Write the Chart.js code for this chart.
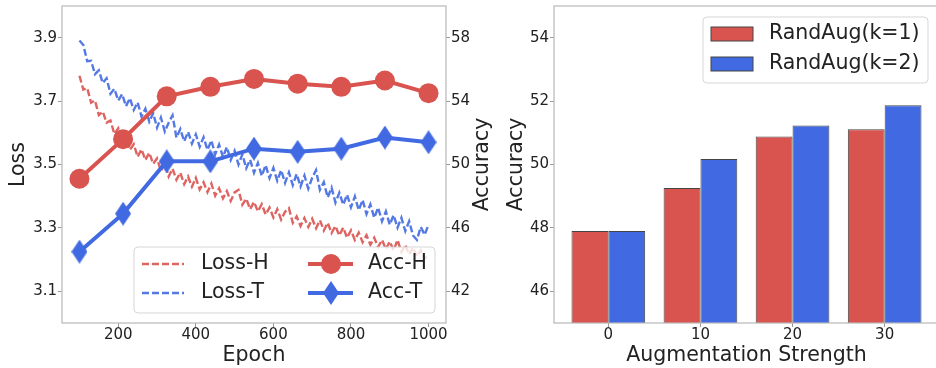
<!DOCTYPE html>
<html>
<head>
<meta charset="utf-8">
<script src="https://cdn.jsdelivr.net/npm/chart.js@4.4.1/dist/chart.umd.min.js"></script>
<style>
  html, body { margin: 0; padding: 0; background: #fff; overflow: hidden; }
  #left { position: absolute; left: 0; top: 0; }
  #right { position: absolute; left: 496px; top: 0; }
</style>
</head>
<body>
<canvas id="left" width="496" height="368"></canvas>
<canvas id="right" width="443" height="368"></canvas>
<script>
// ---- data ----
var accEpochs = [100, 212.5, 325, 437.5, 550, 662.5, 775, 887.5, 1000];
var accH = [49.1, 51.6, 54.3, 54.9, 55.4, 55.1, 54.9, 55.3, 54.5];
var accT = [44.5, 46.9, 50.2, 50.2, 51.0, 50.8, 51.0, 51.7, 51.4];

// loss sampled every 10 epochs from 100 to 1000
var lossH = [3.780, 3.736, 3.741, 3.695, 3.702, 3.656, 3.667, 3.632, 3.639, 3.596,
  3.614, 3.573, 3.588, 3.546, 3.564, 3.524, 3.548, 3.514, 3.537, 3.502,
  3.519, 3.480, 3.503, 3.462, 3.487, 3.452, 3.474, 3.438, 3.462, 3.430,
  3.458, 3.421, 3.444, 3.413, 3.440, 3.402, 3.425, 3.393, 3.416, 3.385,
  3.412, 3.420, 3.373, 3.392, 3.359, 3.382, 3.352, 3.375, 3.342, 3.364,
  3.333, 3.359, 3.326, 3.351, 3.362, 3.316, 3.336, 3.306, 3.331, 3.303,
  3.329, 3.299, 3.324, 3.292, 3.316, 3.284, 3.306, 3.276, 3.301, 3.269,
  3.292, 3.262, 3.285, 3.255, 3.277, 3.247, 3.269, 3.240, 3.262, 3.233,
  3.257, 3.229, 3.262, 3.224, 3.246, 3.216, 3.238, 3.210, 3.230, 3.203,
  3.216];
var lossT = [3.891, 3.877, 3.826, 3.827, 3.785, 3.797, 3.757, 3.772, 3.723, 3.739,
  3.702, 3.722, 3.684, 3.709, 3.672, 3.696, 3.651, 3.676, 3.635, 3.662,
  3.616, 3.648, 3.604, 3.632, 3.655, 3.585, 3.612, 3.573, 3.603, 3.566,
  3.595, 3.556, 3.586, 3.546, 3.576, 3.532, 3.563, 3.524, 3.555, 3.514,
  3.543, 3.500, 3.532, 3.488, 3.515, 3.474, 3.505, 3.464, 3.498, 3.457,
  3.489, 3.449, 3.482, 3.442, 3.475, 3.435, 3.470, 3.431, 3.465, 3.424,
  3.458, 3.482, 3.420, 3.444, 3.396, 3.427, 3.380, 3.411, 3.373, 3.405,
  3.365, 3.399, 3.356, 3.388, 3.344, 3.374, 3.332, 3.364, 3.321, 3.352,
  3.310, 3.340, 3.301, 3.332, 3.290, 3.321, 3.276, 3.262, 3.303, 3.278,
  3.311];
var lossEpochs = lossH.map(function (_, i) { return 100 + 10 * i; });

var strengths = [0, 10, 20, 30];
var randAug1 = [47.9, 49.26, 50.88, 51.11];
var randAug2 = [47.9, 50.17, 51.23, 51.87];

var epochTicks = [200, 400, 600, 800, 1000];
var lossTicks = [3.1, 3.3, 3.5, 3.7, 3.9];
var accTicks = [42, 46, 50, 54, 58];
var barAccTicks = [46, 48, 50, 52, 54];

// ---- styling ----
var RED = '#d9534f';
var BLUE = '#4169e1';
var TXT = '#222';
var FONT = '"DejaVu Sans", sans-serif';
Chart.defaults.font.family = FONT;
Chart.defaults.color = TXT;

function pts(xs, ys) {
  return ys.map(function (y, i) { return { x: xs[i], y: y }; });
}
// fixed axis thickness, and no label overhang padding so the plot box stays put
function fixSize(px) {
  return function (scale) {
    if (scale.isHorizontal()) scale.height = px; else scale.width = px;
    scale.paddingTop = 0; scale.paddingBottom = 0;
    scale.paddingLeft = 0; scale.paddingRight = 0;
  };
}
function setTicks(list) {
  return function (scale) { scale.ticks = list.map(function (v) { return { value: v }; }); };
}
function plain(v) { return String(v); }
function thinDiamond(color, w, h) {
  var c = document.createElement('canvas');
  c.width = w; c.height = h;
  var g = c.getContext('2d');
  g.fillStyle = color;
  g.beginPath();
  g.moveTo(w / 2, 0); g.lineTo(w, h / 2); g.lineTo(w / 2, h); g.lineTo(0, h / 2);
  g.closePath(); g.fill();
  return c;
}
var diamond = thinDiamond(BLUE, 16, 24);

function roundBox(ctx, x, y, w, h, r) {
  ctx.beginPath();
  ctx.moveTo(x + r, y);
  ctx.lineTo(x + w - r, y); ctx.arcTo(x + w, y, x + w, y + r, r);
  ctx.lineTo(x + w, y + h - r); ctx.arcTo(x + w, y + h, x + w - r, y + h, r);
  ctx.lineTo(x + r, y + h); ctx.arcTo(x, y + h, x, y + h - r, r);
  ctx.lineTo(x, y + r); ctx.arcTo(x, y, x + r, y, r);
  ctx.closePath();
  ctx.fillStyle = 'rgba(255,255,255,0.8)';
  ctx.fill();
  ctx.strokeStyle = 'rgba(210,210,210,0.9)';
  ctx.lineWidth = 1;
  ctx.stroke();
}
function drawFrame(chart) {
  var ca = chart.chartArea, ctx = chart.ctx;
  ctx.save();
  ctx.strokeStyle = '#b8b8b8';
  ctx.lineWidth = 1.2;
  ctx.strokeRect(ca.left, ca.top, ca.right - ca.left, ca.bottom - ca.top);
  ctx.restore();
}
var tickGrid = { drawOnChartArea: false, drawTicks: true, tickLength: 4, color: '#999' };
var tickFont = { size: 15, lineHeight: 1 };
var titleFont = { size: 20.5 };

// ---- left chart: loss + accuracy ----
var leftDecor = {
  id: 'leftDecor',
  afterDraw: function (chart) {
    var ctx = chart.ctx, ca = chart.chartArea, ds = chart.data.datasets;
    drawFrame(chart);
    ctx.save();
    // right axis title, read bottom to top
    ctx.translate(483, (ca.top + ca.bottom) / 2);
    ctx.rotate(-Math.PI / 2);
    ctx.font = '20.5px ' + FONT;
    ctx.fillStyle = TXT;
    ctx.textAlign = 'center';
    ctx.textBaseline = 'middle';
    ctx.fillText('Accuracy', 0, 0);
    ctx.restore();

    // legend
    var bx = ca.right - 312, by = ca.bottom - 76;
    ctx.save();
    roundBox(ctx, bx, by, 301, 66, 4);
    ctx.font = '20.5px ' + FONT;
    ctx.textBaseline = 'middle';
    ctx.textAlign = 'left';
    var rows = [by + 17, by + 46];
    [0, 1].forEach(function (i) {
      var y = rows[i], d = ds[i];
      ctx.strokeStyle = d.borderColor;
      ctx.lineWidth = d.borderWidth;
      ctx.setLineDash(d.borderDash);
      ctx.beginPath(); ctx.moveTo(bx + 8, y); ctx.lineTo(bx + 50, y); ctx.stroke();
      ctx.setLineDash([]);
      ctx.fillStyle = TXT;
      ctx.fillText(d.label, bx + 67, y);
    });
    [2, 3].forEach(function (i, k) {
      var y = rows[k], d = ds[i], cx = bx + 197;
      ctx.strokeStyle = d.borderColor;
      ctx.lineWidth = d.borderWidth;
      ctx.beginPath(); ctx.moveTo(bx + 174, y); ctx.lineTo(bx + 219, y); ctx.stroke();
      if (d.pointStyle === 'circle') {
        ctx.fillStyle = d.pointBackgroundColor;
        ctx.beginPath(); ctx.arc(cx, y, d.pointRadius, 0, Math.PI * 2); ctx.fill();
      } else {
        ctx.drawImage(d.pointStyle, cx - d.pointStyle.width / 2, y - d.pointStyle.height / 2);
      }
      ctx.fillStyle = TXT;
      ctx.fillText(d.label, bx + 234, y);
    });
    ctx.restore();
  }
};

new Chart(document.getElementById('left'), {
  type: 'line',
  data: {
    datasets: [
      { label: 'Loss-H', data: pts(lossEpochs, lossH), yAxisID: 'y', borderColor: 'rgba(217,83,79,0.9)',
        borderWidth: 2.4, borderDash: [7, 3], pointRadius: 0, order: 2 },
      { label: 'Loss-T', data: pts(lossEpochs, lossT), yAxisID: 'y', borderColor: 'rgba(65,105,225,0.9)',
        borderWidth: 2.4, borderDash: [7, 3], pointRadius: 0, order: 2 },
      { label: 'Acc-H', data: pts(accEpochs, accH), yAxisID: 'y1', borderColor: RED, borderWidth: 4,
        pointStyle: 'circle', pointRadius: 10, pointBackgroundColor: RED, pointBorderWidth: 0, order: 1 },
      { label: 'Acc-T', data: pts(accEpochs, accT), yAxisID: 'y1', borderColor: BLUE, borderWidth: 4,
        pointStyle: diamond, pointRadius: 12, pointBackgroundColor: BLUE, pointBorderWidth: 0, order: 0 }
    ]
  },
  options: {
    responsive: false,
    animation: false,
    layout: { autoPadding: false, padding: { top: 6, left: 0, right: 0, bottom: 0 } },
    plugins: { legend: { display: false }, tooltip: { enabled: false } },
    scales: {
      x: {
        type: 'linear', min: 55, max: 1045,
        afterBuildTicks: setTicks(epochTicks), afterFit: fixSize(45),
        ticks: { font: tickFont, padding: 1, callback: plain },
        grid: tickGrid, border: { display: false },
        title: { display: true, text: 'Epoch', font: titleFont, padding: 0 }
      },
      y: {
        position: 'left', min: 3.0, max: 4.0,
        afterBuildTicks: setTicks(lossTicks), afterFit: fixSize(62),
        ticks: { font: tickFont, padding: 1, callback: function (v) { return v.toFixed(1); } },
        grid: tickGrid, border: { display: false },
        title: { display: true, text: 'Loss', font: titleFont, padding: { top: 6 } }
      },
      y1: {
        position: 'right', min: 40, max: 60,
        afterBuildTicks: setTicks(accTicks), afterFit: fixSize(50),
        ticks: { font: tickFont, padding: 1, callback: plain },
        grid: tickGrid, border: { display: false }
      }
    }
  },
  plugins: [leftDecor]
});

// ---- right chart: grouped bars ----
var rightDecor = {
  id: 'rightDecor',
  afterDraw: function (chart) {
    var ctx = chart.ctx, ca = chart.chartArea, ds = chart.data.datasets;
    drawFrame(chart);
    var bx = ca.right - 236, by = ca.top + 11;
    ctx.save();
    roundBox(ctx, bx, by, 225, 66, 4);
    ctx.font = '20.5px ' + FONT;
    ctx.textBaseline = 'middle';
    ctx.textAlign = 'left';
    var rows = [by + 17, by + 47];
    ds.forEach(function (d, i) {
      var y = rows[i];
      ctx.fillStyle = d.backgroundColor;
      ctx.fillRect(bx + 8, y - 7, 42, 14);
      ctx.strokeStyle = d.borderColor;
      ctx.lineWidth = 1;
      ctx.strokeRect(bx + 8, y - 7, 42, 14);
      ctx.fillStyle = TXT;
      ctx.fillText(d.label, bx + 66, y);
    });
    ctx.restore();
  }
};

new Chart(document.getElementById('right'), {
  type: 'bar',
  data: {
    datasets: [
      { label: 'RandAug(k=1)', data: pts(strengths, randAug1), backgroundColor: RED,
        borderColor: '#444', borderWidth: 1, borderSkipped: 'bottom' },
      { label: 'RandAug(k=2)', data: pts(strengths, randAug2), backgroundColor: BLUE,
        borderColor: '#444', borderWidth: 1, borderSkipped: 'bottom' }
    ]
  },
  options: {
    responsive: false,
    animation: false,
    categoryPercentage: 0.8,
    barPercentage: 1.0,
    layout: { autoPadding: false, padding: { top: 6, left: 0, right: 0, bottom: 0 } },
    plugins: { legend: { display: false }, tooltip: { enabled: false } },
    scales: {
      x: {
        type: 'linear', min: -5.9, max: 35.9, offset: false,
        afterBuildTicks: setTicks(strengths), afterFit: fixSize(45),
        ticks: { font: tickFont, padding: 1, callback: plain },
        grid: { drawOnChartArea: false, drawTicks: true, tickLength: 4, color: '#999', offset: false },
        border: { display: false },
        title: { display: true, text: 'Augmentation Strength', font: titleFont, padding: 0 }
      },
      y: {
        min: 45, max: 55, beginAtZero: false,
        afterBuildTicks: setTicks(barAccTicks), afterFit: fixSize(58),
        ticks: { font: tickFont, padding: 1, callback: plain },
        grid: tickGrid, border: { display: false },
        title: { display: true, text: 'Accuracy', font: titleFont, padding: { top: 8 } }
      }
    }
  },
  plugins: [rightDecor]
});
</script>
</body>
</html>
